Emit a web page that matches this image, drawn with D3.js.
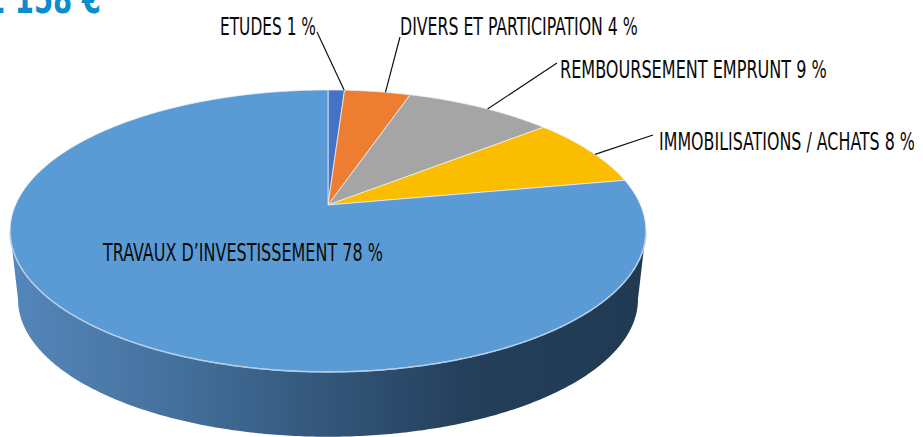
<!DOCTYPE html>
<html>
<head>
<meta charset="utf-8">
<script src="https://cdn.jsdelivr.net/npm/d3@7"></script>
<style>
  html, body { margin: 0; padding: 0; background: #fff; }
  svg { display: block; }
  .lbl { font-family: "Liberation Sans Narrow", "DejaVu Sans Condensed", sans-serif; font-size: 25.5px; fill: #0a0a0a; }
</style>
</head>
<body>
<svg></svg>
<script>
// Data
const categories = ["ETUDES", "DIVERS ET PARTICIPATION", "REMBOURSEMENT EMPRUNT", "IMMOBILISATIONS / ACHATS", "TRAVAUX D\u2019INVESTISSEMENT"];
const values = [1, 4, 9, 8, 78];
const colors = ["#4472c4", "#ed7d31", "#a5a5a5", "#fbbd00", "#5b9bd5"];
const title = "1 158 \u20ac";

// Label layout (left x, baseline y, text width, leader start)
const labelLayout = [
  { x: 220, y: 35, w: 96,  lx: 317, ly: 32 },
  { x: 400, y: 35, w: 238, lx: 400, ly: 37 },
  { x: 560, y: 78, w: 267, lx: 557, ly: 63 },
  { x: 659, y: 150, w: 256, lx: 653, ly: 135 },
  { x: 103, y: 261, w: 280, lx: null, ly: null }
];

// Sizes
const W = 923, H = 437;
const cx = 328, cy = 205;
const A = 312.5, B = 136.2, k = 0.184;   // perspective ellipse
const depth = 69, bottomScale = 0.975;

const svg = d3.select("svg").attr("width", W).attr("height", H);

// point on the disc: angle a (clockwise from top), radius fraction r, level 0 top / 1 bottom
const proj = (a, r, level) => {
  const u = r * Math.sin(a), v = -r * Math.cos(a);
  const w = 1 - k * v;
  const s = level ? bottomScale : 1;
  const dy = level ? depth : 0;
  return [cx + s * A * u / w, cy + dy + s * B * v / w];
};

const arcPoints = (a0, a1, level) => {
  const n = Math.max(2, Math.ceil(Math.abs(a1 - a0) / 0.01));
  return d3.range(n + 1).map(i => proj(a0 + (a1 - a0) * i / n, 1, level));
};

const line = d3.line();

const pie = d3.pie().sort(null).value(d => d)(values);

// Side gradient
const defs = svg.append("defs");
const grad = defs.append("linearGradient")
  .attr("id", "side").attr("gradientUnits", "userSpaceOnUse")
  .attr("x1", cx - A * 1.02).attr("x2", cx + A * 1.02).attr("y1", 0).attr("y2", 0);
[["0%", "#5587bb"], ["25%", "#45719e"], ["50%", "#335679"], ["72%", "#243f5b"], ["100%", "#203a52"]]
  .forEach(([o, c]) => grad.append("stop").attr("offset", o).attr("stop-color", c));

// visible front side, between the silhouette angles
const aRight = Math.PI - Math.acos(k);
const aLeft = Math.PI + Math.acos(k);
const sidePts = arcPoints(aRight, aLeft, 0).concat(arcPoints(aLeft, aRight, 1));
svg.append("path")
  .attr("d", line(sidePts) + "Z")
  .attr("fill", "url(#side)");

// Top face slices
svg.append("g").selectAll("path")
  .data(pie)
  .join("path")
    .attr("d", d => line([[cx, cy]].concat(arcPoints(d.startAngle, d.endAngle, 0))) + "Z")
    .attr("fill", (d, i) => colors[i])
    .attr("stroke", "rgba(235,242,250,0.75)")
    .attr("stroke-width", 1)
    .attr("stroke-linejoin", "round");

// highlight on the front top edge
svg.append("path")
  .attr("d", line(arcPoints(aRight, aLeft, 0)))
  .attr("fill", "none")
  .attr("stroke", "#b4cde9")
  .attr("stroke-width", 1.5);

// Leader lines
svg.append("g").selectAll("line")
  .data(pie.filter((d, i) => labelLayout[i].lx !== null))
  .join("line")
    .attr("x1", d => labelLayout[d.index].lx)
    .attr("y1", d => labelLayout[d.index].ly)
    .attr("x2", d => proj((d.startAngle + d.endAngle) / 2 + 0.03, 1, 0)[0])
    .attr("y2", d => proj((d.startAngle + d.endAngle) / 2 + 0.03, 1, 0)[1])
    .attr("stroke", "#111")
    .attr("stroke-width", 1.2);

// Labels, squeezed horizontally to the condensed width of the source
svg.append("g").selectAll("text")
  .data(pie)
  .join("text")
    .attr("class", "lbl")
    .text(d => `${categories[d.index]} ${d.data} %`)
    .attr("transform", function(d) {
      const L = labelLayout[d.index];
      const len = this.getComputedTextLength();
      return `translate(${L.x}, ${L.y}) scale(${L.w / len}, 1)`;
    });

// Title, cropped at the top left like the source
const t = svg.append("text")
  .style("font-family", "'Liberation Sans Narrow', 'DejaVu Sans Condensed', sans-serif")
  .style("font-weight", "bold")
  .style("font-size", "40px")
  .style("fill", "#0b8dcb")
  .text(title);
const tLen = t.node().getComputedTextLength();
t.attr("transform", `translate(-14, 13) scale(${115 / tLen}, 1)`);
</script>
</body>
</html>
